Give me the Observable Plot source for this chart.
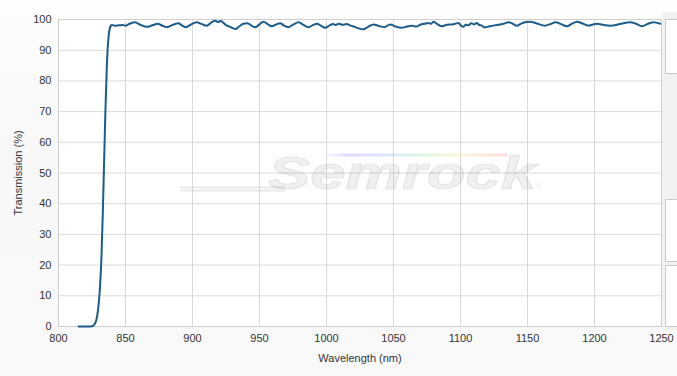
<!DOCTYPE html>
<html>
<head>
<meta charset="utf-8">
<script src="https://cdn.jsdelivr.net/npm/d3@7"></script>
<script src="https://cdn.jsdelivr.net/npm/@observablehq/plot@0.6"></script>
<style>
  html, body { margin: 0; padding: 0; }
  body { width: 677px; height: 376px; overflow: hidden; background: linear-gradient(to bottom, #fdfdfd 0%, #f8f8f8 40%, #f9f9f9 100%); font-family: "Liberation Sans", Arial, sans-serif; }
  #wrap { position: relative; width: 677px; height: 376px; }
  #chart { position: absolute; left: 0; top: 0; }
  .panel { position: absolute; left: 662px; top: 12px; width: 15px; height: 318px; background: #f1f1f1; }
  .box { position: absolute; left: 665px; width: 20px; background: #fff; border: 1px solid #c9c9c9; box-sizing: border-box; }
  #wm { position: absolute; left: 0; top: 0; pointer-events: none; }
</style>
</head>
<body>
<div id="wrap">
  <div class="panel"></div>
  <div class="box" style="top:19px;height:55px;"></div>
  <div class="box" style="top:199px;height:63px;"></div>
  <div class="box" style="top:265px;height:62px;"></div>
  <div id="chart"></div>
  <svg id="wm" width="677" height="376">
    <defs>
      <linearGradient id="rb" x1="0" x2="1" y1="0" y2="0">
        <stop offset="0" stop-color="#b07cff" stop-opacity="0"/>
        <stop offset="0.15" stop-color="#9b7bff"/>
        <stop offset="0.35" stop-color="#7fb0ff"/>
        <stop offset="0.55" stop-color="#8fe08f"/>
        <stop offset="0.75" stop-color="#f3e27a"/>
        <stop offset="1" stop-color="#ff8a8a"/>
      </linearGradient>
    </defs>
    <rect x="320" y="153.5" width="188" height="3" fill="url(#rb)" opacity="0.3"/>
    <line x1="180" y1="189" x2="285" y2="189" stroke="rgba(0,0,0,0.09)" stroke-width="5"/>
    <line x1="180" y1="189" x2="285" y2="189" stroke="#fff" stroke-opacity="0.8" stroke-width="1.5"/>
    <text x="268" y="189" textLength="268" lengthAdjust="spacingAndGlyphs" font-family="Liberation Sans, Arial" font-weight="bold" font-style="italic" font-size="46" fill="rgba(0,0,0,0.06)" stroke="rgba(0,0,0,0.07)" stroke-width="1.2">Semrock</text>
    <text x="536" y="190" font-family="Liberation Sans, Arial" font-size="9" fill="rgba(0,0,0,0.12)">®</text>
  </svg>
</div>
<script>
const wavelength = [815,820,824,826,827,828,829,830,831,832,833,834,835,836,837,838,839,840,842,845,848,850,853,857,861,866,870,874,878,881,885,889.5,892,895,899,903,907,910.5,914,917,919,921,925,928,932,935,938,941,944,947,950,953,956,959,962,965.5,968,971.5,975,979,983,986.5,990,993,996,999,1002,1005,1007,1009,1012,1015,1018,1021,1024,1027.5,1031,1035,1039,1043,1047.5,1051,1056,1060,1064,1067,1070,1073,1076,1078,1080,1082,1086,1090,1094,1096,1098.5,1100,1102,1104,1106,1108,1110,1112,1114,1116,1118,1120,1123,1127,1132,1136,1139,1142,1145,1148,1152,1157,1163,1167,1171,1175,1179.5,1183,1187,1191,1195.5,1199,1202,1207,1212,1219,1226.5,1231,1235.5,1240,1244,1249];
const transmission = [0,0,0,0.3,0.8,1.8,3.8,7.5,13,22,36,53,70,84,92.5,96.5,97.9,98.2,98.0,98.1,98.2,98.0,98.6,99.1,98.3,97.6,98.1,98.6,97.9,97.5,98.2,98.8,98.1,97.5,98.4,99.1,98.5,98.0,99.0,99.6,99.2,99.5,98.2,97.6,96.9,97.8,98.6,98.8,98.0,97.5,98.4,99.3,98.5,97.8,98.3,98.8,98.1,97.5,98.3,99.1,98.2,97.5,98.2,98.6,97.9,97.3,98.0,98.5,98.2,98.6,98.3,98.5,98.0,97.6,97.1,96.8,97.6,98.4,97.9,97.5,98.4,97.8,97.3,97.7,98.0,97.7,98.3,98.6,98.9,98.6,99.3,98.7,97.8,98.3,98.4,98.6,98.9,98.2,97.6,98.3,98.1,98.8,98.4,98.9,98.2,98.0,97.4,97.6,97.9,98.2,98.6,99.1,98.6,98.0,98.6,99.1,99.3,98.7,98.0,98.5,99.1,98.5,97.8,98.6,99.3,98.7,98.0,98.4,98.6,98.2,98.0,98.5,99.1,98.6,97.8,98.6,99.1,98.6];
const xTicks = [800,850,900,950,1000,1050,1100,1150,1200,1250];
const yTicks = [0,10,20,30,40,50,60,70,80,90,100];

const data = wavelength.map((w, i) => ({w, t: transmission[i]}));

const chart = Plot.plot({
  width: 677,
  height: 376,
  marginLeft: 58,
  marginRight: 16,
  marginTop: 19,
  marginBottom: 50,
  style: {fontFamily: "'Liberation Sans', Arial, sans-serif", fontSize: "11px", color: "#333", background: "transparent"},
  x: {domain: [800, 1250]},
  y: {domain: [0, 100]},
  marks: [
    Plot.frame({fill: "white", stroke: "none"}),
    Plot.gridX(xTicks, {stroke: "#dadada", strokeOpacity: 1}),
    Plot.gridY(yTicks, {stroke: "#dadada", strokeOpacity: 1}),
    Plot.frame({stroke: "#cfcfcf"}),
    Plot.axisX(xTicks, {tickSize: 0, tickPadding: 8, fontSize: 11, tickFormat: d => String(d), label: "Wavelength (nm)", labelAnchor: "center", labelOffset: 35, labelArrow: "none"}),
    Plot.axisY(yTicks, {tickSize: 0, tickPadding: 7, fontSize: 11, tickFormat: d => String(d), label: "Transmission (%)", labelAnchor: "center", labelOffset: 44, labelArrow: "none"}),
    Plot.line(data, {x: "w", y: "t", stroke: "#1b5c8c", strokeWidth: 2, curve: "monotone-x"})
  ]
});
document.getElementById("chart").appendChild(chart);
</script>
</body>
</html>
